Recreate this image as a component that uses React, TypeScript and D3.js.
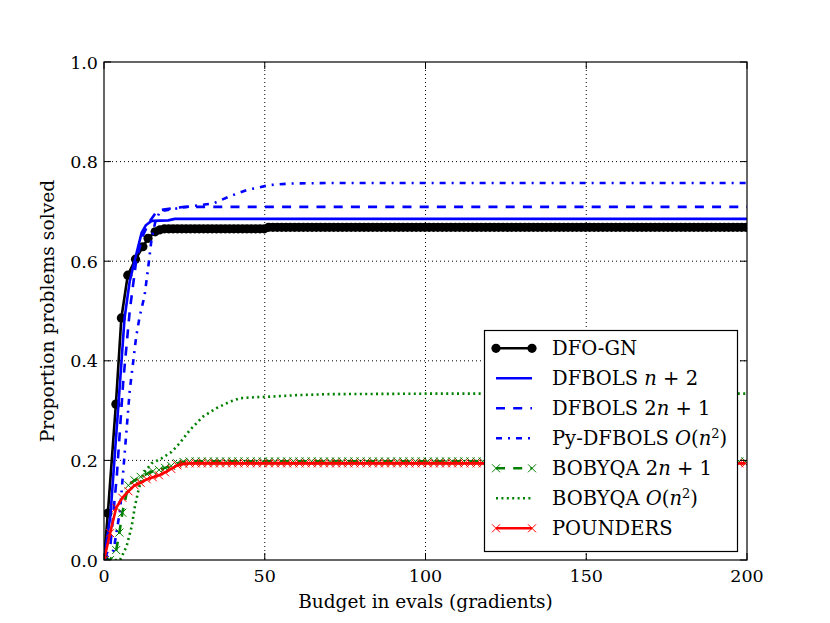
import React from 'react';
import * as d3 from 'd3';

const xTicks = [0, 50, 100, 150, 200];
const xTickLabels = ['0', '50', '100', '150', '200'];
const yTicks = [0, 0.2, 0.4, 0.6, 0.8, 1.0];
const yTickLabels = ['0.0', '0.2', '0.4', '0.6', '0.8', '1.0'];

// DFO-GN (black, circles): rising part, then step levels sampled on the marker grid
const dfognX = [0, 1.2, 3.7, 5.4, 7.4, 9.8, 12.1, 13.7, 15.9, 17.4, 18.8];
const dfognY = [0, 0.094, 0.313, 0.486, 0.572, 0.604, 0.629, 0.646, 0.659, 0.663, 0.665];
const dfognLevels: [number, number][] = [[18.8, 0.665], [50, 0.668]];
const dfognStep = 1.35;

// DFBOLS n+2 (blue solid)
const dfbolsN2X = [0, 2, 4.5, 6.4, 8, 9.5, 11.7, 13, 14.8, 20, 22, 200];
const dfbolsN2Y = [0, 0.09, 0.313, 0.486, 0.56, 0.6, 0.657, 0.672, 0.681, 0.682, 0.685, 0.685];

// DFBOLS 2n+1 (blue dashed)
const dfbols2nX = [0, 2, 4, 6, 8, 10, 12, 14, 16.4, 18, 22, 25, 200];
const dfbols2nY = [0, 0.03, 0.17, 0.36, 0.5, 0.6, 0.65, 0.678, 0.7, 0.703, 0.707, 0.709, 0.709];

// Py-DFBOLS O(n^2) (blue dash-dot)
const pyX = [0, 3, 5, 6.5, 8, 10, 11.1, 12.6, 13.7, 14.8, 16, 17.4, 22.6, 26.7, 34, 39, 44.4, 51.6, 58, 70, 200];
const pyY = [0, 0.02, 0.1, 0.22, 0.34, 0.448, 0.489, 0.53, 0.585, 0.645, 0.68, 0.7, 0.706, 0.71, 0.716, 0.73, 0.743, 0.753, 0.756, 0.757, 0.757];

// BOBYQA 2n+1 (green dashed, x markers)
const bob2nX = [0, 1.9, 3.8, 4.8, 5.7, 7.6, 9.5, 11.4, 13.3, 15.2, 17.1, 19, 20.9, 22.8, 24.7, 26.6];
const bob2nY = [0, 0, 0.02, 0.055, 0.095, 0.15, 0.16, 0.167, 0.173, 0.178, 0.181, 0.185, 0.189, 0.194, 0.197, 0.198];
const bob2nLevels: [number, number][] = [[26.6, 0.198]];

// BOBYQA O(n^2) (green dotted)
const bobN2X = [0, 5, 7, 8.6, 9.6, 10.7, 12.2, 14.8, 17.9, 21, 23.6, 26.7, 30.8, 35, 39.2, 42.3, 47.5, 51.6, 60, 70, 100, 200];
const bobN2Y = [0, 0, 0.027, 0.067, 0.107, 0.14, 0.174, 0.194, 0.204, 0.217, 0.235, 0.261, 0.288, 0.305, 0.318, 0.325, 0.327, 0.328, 0.331, 0.333, 0.334, 0.334];

// POUNDERS (red solid, x markers)
const poundX = [0, 1.9, 3.8, 5.7, 7.6, 9.5, 11.4, 13.3, 15.2, 17.1, 19, 20.9, 22.8, 24.7, 26.6];
const poundY = [0, 0.054, 0.105, 0.125, 0.138, 0.15, 0.155, 0.162, 0.166, 0.17, 0.176, 0.183, 0.19, 0.193, 0.194];
const poundLevels: [number, number][] = [[26.6, 0.194]];

const markerStep = 1.9;

function withTail(xs: number[], ys: number[], levels: [number, number][], step: number): [number, number][] {
  const pts: [number, number][] = xs.map((x, i) => [x, ys[i]]);
  const start = xs[xs.length - 1];
  const tail = d3.range(start + step, 200.0001, step);
  for (const x of tail) {
    let v = levels[0][1];
    for (const [s, l] of levels) if (x >= s) v = l;
    pts.push([x, v]);
  }
  return pts;
}

const L = 104, R = 747, T = 62, B = 560;
const FONT = '"DejaVu Serif", "Liberation Serif", serif';

export default function App() {
  const x = d3.scaleLinear().domain([0, 200]).range([L, R]);
  const y = d3.scaleLinear().domain([0, 1]).range([B, T]);
  const line = d3.line<[number, number]>().x(d => x(d[0])).y(d => y(d[1]));
  const zip = (xs: number[], ys: number[]): [number, number][] => xs.map((v, i) => [v, ys[i]]);

  const black = withTail(dfognX, dfognY, dfognLevels, dfognStep);
  const green2n = withTail(bob2nX, bob2nY, bob2nLevels, markerStep);
  const red = withTail(poundX, poundY, poundLevels, markerStep);

  const xMark = (cx: number, cy: number, s: number, color: string, key: any) => (
    <path key={key} d={`M${cx - s},${cy - s}L${cx + s},${cy + s}M${cx - s},${cy + s}L${cx + s},${cy - s}`} stroke={color} strokeWidth={1} fill="none" />
  );

  const blue = '#0000ff', green = '#008000', redC = '#ff0000';
  const lw = 2.6;
  const dashed = '9,8.2';
  const dashdot = '6,6,2,6';
  const dotted = '2,3.4';
  const LFS = 19.5;

  const legendItems = [
    { label: [{ t: 'DFO-GN' }], color: '#000', dash: undefined, marker: 'o' },
    { label: [{ t: 'DFBOLS ' }, { t: 'n', i: true }, { t: ' + 2' }], color: blue, dash: undefined, marker: '' },
    { label: [{ t: 'DFBOLS ' }, { t: '2' }, { t: 'n', i: true }, { t: ' + 1' }], color: blue, dash: dashed, marker: '' },
    { label: [{ t: 'Py-DFBOLS ' }, { t: 'O', i: true }, { t: '(' }, { t: 'n', i: true }, { t: '2', sup: true }, { t: ')' }], color: blue, dash: dashdot, marker: '' },
    { label: [{ t: 'BOBYQA ' }, { t: '2' }, { t: 'n', i: true }, { t: ' + 1' }], color: green, dash: dashed, marker: 'x' },
    { label: [{ t: 'BOBYQA ' }, { t: 'O', i: true }, { t: '(' }, { t: 'n', i: true }, { t: '2', sup: true }, { t: ')' }], color: green, dash: dotted, marker: '' },
    { label: [{ t: 'POUNDERS' }], color: redC, dash: undefined, marker: 'x' },
  ];

  return (
    <svg width={830} height={623} style={{ position: 'absolute', left: 0, top: 0, background: '#fff' }} fontFamily={FONT}>
      <defs>
        <clipPath id="plot">
          <rect x={L} y={T} width={R - L} height={B - T} />
        </clipPath>
      </defs>
      <rect x={0} y={0} width={830} height={623} fill="#fff" />
      {/* grid */}
      {xTicks.slice(1, -1).map(t => (
        <line key={'gx' + t} x1={x(t)} x2={x(t)} y1={T} y2={B} stroke="#000" strokeWidth={1} strokeDasharray="1,3" />
      ))}
      {yTicks.slice(1, -1).map(t => (
        <line key={'gy' + t} x1={L} x2={R} y1={y(t)} y2={y(t)} stroke="#000" strokeWidth={1} strokeDasharray="1,3" />
      ))}
      <g clipPath="url(#plot)">
        <path d={line(black) || ''} fill="none" stroke="#000" strokeWidth={lw} />
        {black.map((d, i) => <circle key={'bc' + i} cx={x(d[0])} cy={y(d[1])} r={4.6} fill="#000" />)}
        <path d={line(zip(dfbolsN2X, dfbolsN2Y)) || ''} fill="none" stroke={blue} strokeWidth={lw} />
        <path d={line(zip(dfbols2nX, dfbols2nY)) || ''} fill="none" stroke={blue} strokeWidth={lw} strokeDasharray={dashed} />
        <path d={line(zip(pyX, pyY)) || ''} fill="none" stroke={blue} strokeWidth={lw} strokeDasharray={dashdot} />
        <path d={line(green2n) || ''} fill="none" stroke={green} strokeWidth={lw} strokeDasharray={dashed} />
        {green2n.map((d, i) => xMark(x(d[0]), y(d[1]), 4, green, 'gx' + i))}
        <path d={line(zip(bobN2X, bobN2Y)) || ''} fill="none" stroke={green} strokeWidth={lw} strokeDasharray={dotted} />
        <path d={line(red) || ''} fill="none" stroke={redC} strokeWidth={lw} />
        {red.map((d, i) => xMark(x(d[0]), y(d[1]), 4, redC, 'rx' + i))}
      </g>
      {/* frame */}
      <rect x={L} y={T} width={R - L} height={B - T} fill="none" stroke="#000" strokeWidth={1.2} />
      {/* ticks */}
      {xTicks.map(t => (
        <g key={'xt' + t}>
          <line x1={x(t)} x2={x(t)} y1={B} y2={B - 7} stroke="#000" strokeWidth={1} />
          <line x1={x(t)} x2={x(t)} y1={T} y2={T + 7} stroke="#000" strokeWidth={1} />
        </g>
      ))}
      {yTicks.map(t => (
        <g key={'yt' + t}>
          <line x1={L} x2={L + 7} y1={y(t)} y2={y(t)} stroke="#000" strokeWidth={1} />
          <line x1={R} x2={R - 7} y1={y(t)} y2={y(t)} stroke="#000" strokeWidth={1} />
        </g>
      ))}
      {xTicks.map((t, i) => (
        <text key={'xl' + t} x={x(t)} y={582} textAnchor="middle" fontSize={17.5}>{xTickLabels[i]}</text>
      ))}
      {yTicks.map((t, i) => (
        <text key={'yl' + t} x={98} y={y(t) + 6.5} textAnchor="end" fontSize={17.5}>{yTickLabels[i]}</text>
      ))}
      <text x={(L + R) / 2} y={608} textAnchor="middle" fontSize={18.5}>Budget in evals (gradients)</text>
      <text transform={`translate(54,${(T + B) / 2}) rotate(-90)`} textAnchor="middle" fontSize={18.7}>Proportion problems solved</text>
      {/* legend */}
      <rect x={484.5} y={330.5} width={253} height={221} fill="#fff" stroke="#000" strokeWidth={1.2} />
      {legendItems.map((it, i) => {
        const cy = 348.3 + 30 * i;
        return (
          <g key={'lg' + i}>
            <line x1={496} x2={532} y1={cy} y2={cy} stroke={it.color} strokeWidth={lw} strokeDasharray={it.dash} />
            {it.marker === 'o' && <>
              <circle cx={496} cy={cy} r={4.6} fill="#000" />
              <circle cx={532} cy={cy} r={4.6} fill="#000" />
            </>}
            {it.marker === 'x' && <>
              {xMark(496, cy, 4, it.color, 'a')}
              {xMark(532, cy, 4, it.color, 'b')}
            </>}
            <text x={552} y={cy + 7} fontSize={LFS}>
              {it.label.map((p: any, j: number) => (
                <tspan key={j} fontStyle={p.i ? 'italic' : 'normal'} fontSize={p.sup ? 13 : LFS} dy={p.sup ? -7.5 : (j > 0 && it.label[j - 1] && (it.label[j - 1] as any).sup ? 7.5 : 0)}>{p.t}</tspan>
              ))}
            </text>
          </g>
        );
      })}
    </svg>
  );
}
